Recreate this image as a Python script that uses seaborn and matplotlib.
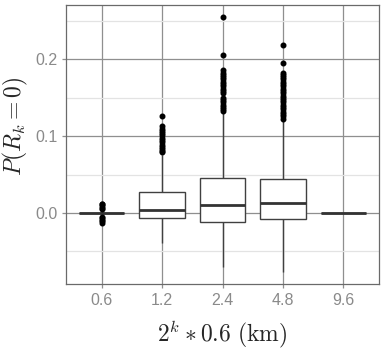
import numpy as np
import pandas as pd
import matplotlib
matplotlib.use('Agg')
import matplotlib.pyplot as plt
import seaborn as sns

sns.set_style('white')
plt.rcParams['font.family'] = ['Liberation Sans', 'DejaVu Sans']
plt.rcParams['mathtext.fontset'] = 'cm'

# distance classes (km)
scales = ['0.6', '1.2', '2.4', '4.8', '9.6']

# box summaries: lower whisker, q1, median, q3, upper whisker
whisk_lo = [0.0, -0.0387, -0.070, -0.0764, 0.0]
q1 = [0.0, -0.007, -0.0113, -0.0078, 0.0]
median = [0.0, 0.0043, 0.0104, 0.0134, 0.0]
q3 = [0.0, 0.027, 0.046, 0.0443, 0.0]
whisk_hi = [0.0, 0.076, 0.130, 0.120, 0.0]

# outlier points
out_06 = [-0.013, -0.011, -0.009, -0.007, -0.005, 0.005, 0.007, 0.009, 0.011, 0.012]
out_12 = [0.079, 0.081, 0.083, 0.086, 0.089, 0.092, 0.095, 0.098, 0.101, 0.104,
          0.107, 0.110, 0.113, 0.126]
out_24 = [0.133, 0.135, 0.138, 0.141, 0.144, 0.147, 0.150, 0.156, 0.159, 0.162,
          0.165, 0.168, 0.171, 0.174, 0.177, 0.180, 0.183, 0.186, 0.206, 0.255]
out_48 = [0.123, 0.126, 0.129, 0.132, 0.135, 0.138, 0.141, 0.144, 0.147, 0.150,
          0.153, 0.156, 0.159, 0.162, 0.165, 0.168, 0.171, 0.174, 0.177, 0.180,
          0.182, 0.196, 0.219]
out_96 = []
outliers = [out_06, out_12, out_24, out_48, out_96]

# rebuild samples whose quartiles equal the read summaries
r = 40
rows = []
for i, s in enumerate(scales):
    vals = [whisk_lo[i]] + [q1[i]] * r + [median[i]] * r + [q3[i]] * r + [whisk_hi[i]] + outliers[i]
    for v in vals:
        rows.append((s, v))
df = pd.DataFrame(rows, columns=['scale', 'p'])

fig = plt.figure(figsize=(3.81, 3.49), dpi=100)
ax = fig.add_axes([0.1732, 0.1854, 0.8216, 0.8003])

edge = '#404040'
sns.boxplot(data=df, x='scale', y='p', order=scales, width=0.75, ax=ax,
            color='white', linewidth=1.0,
            boxprops=dict(edgecolor=edge, facecolor='white', linewidth=1.0, zorder=3),
            whiskerprops=dict(color=edge, linewidth=1.0, zorder=3),
            capprops=dict(linewidth=0),
            medianprops=dict(color='#333333', linewidth=2.0, zorder=4),
            flierprops=dict(marker='o', markerfacecolor='black', markeredgecolor='black',
                            markersize=3.3, zorder=4))

ax.set_xlim(-0.59, 4.59)
ax.set_ylim(-0.093, 0.271)
ax.set_yticks([0.0, 0.1, 0.2])
ax.set_yticklabels(['0.0', '0.1', '0.2'])
ax.set_yticks([-0.05, 0.05, 0.15, 0.25], minor=True)

ax.set_axisbelow(True)
ax.grid(which='major', axis='both', color='#8f8f8f', linewidth=0.9)
ax.grid(which='minor', axis='y', color='#e3e3e3', linewidth=0.9)

for sp in ax.spines.values():
    sp.set_color('#6a6a6a')
    sp.set_linewidth(0.9)

ax.tick_params(which='major', length=3, width=0.9, color='#8f8f8f',
               labelcolor='#8a8a8a', labelsize=11.5, pad=3,
               bottom=True, left=True)
ax.tick_params(which='minor', length=0)

ax.set_xlabel(r'$2^k * 0.6\ (\mathrm{km})$', fontsize=17)
ax.set_ylabel(r'$P(R_k = 0)$', fontsize=17)
ax.yaxis.label.set_verticalalignment('center')
ax.xaxis.label.set_verticalalignment('center')
ax.yaxis.set_label_coords(-0.16, 0.565)
ax.xaxis.set_label_coords(0.5, -0.178)

fig.savefig('out.png', dpi=100)
